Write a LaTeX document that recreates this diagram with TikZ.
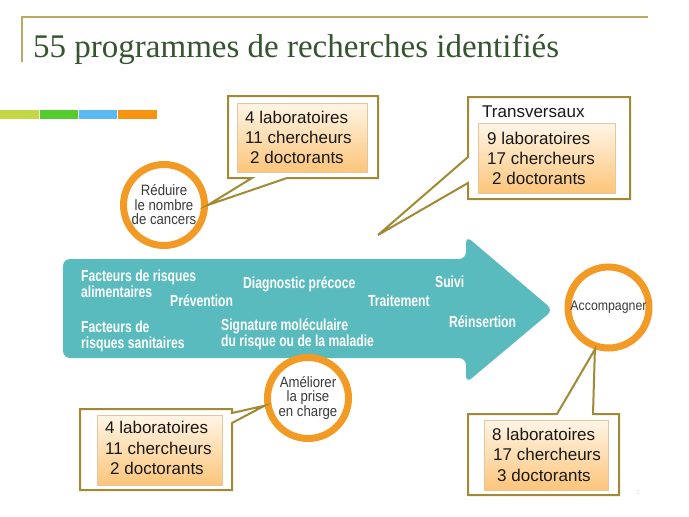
\documentclass[tikz,border=0pt]{standalone}
\usepackage{fontspec}
\setmainfont{Liberation Serif}
\newfontfamily\arialf{Liberation Sans}
\newfontfamily\condf[FakeStretch=0.76]{Liberation Sans}
\newfontfamily\circf[FakeStretch=0.88]{Liberation Sans}
\definecolor{tealc}{HTML}{5ABBBE}
\definecolor{ringc}{HTML}{F39A25}
\definecolor{olivec}{HTML}{A08A35}
\definecolor{titlec}{HTML}{35552F}
\definecolor{rulec}{HTML}{BBA966}
\definecolor{barA}{HTML}{C3D843}
\definecolor{barB}{HTML}{55CC2E}
\definecolor{barC}{HTML}{5BB8F0}
\definecolor{barD}{HTML}{F7940F}
\definecolor{boxtop}{HTML}{FFF5E6}
\definecolor{boxbot}{HTML}{FCC57A}
\definecolor{boxedge}{HTML}{E3C79C}
\definecolor{circtext}{HTML}{3A3A3A}
\begin{document}
\begin{tikzpicture}[x=1pt,y=-1pt,
  ring/.style={circle, draw=ringc, line width=7pt, fill=white, minimum size=81pt, inner sep=0pt,
    align=center, text=circtext, font=\circf\fontsize{15}{14.5}\selectfont},
  outerbox/.style={draw=olivec, line width=2pt, fill=white, line join=miter},
  innerbox/.style={top color=boxtop, bottom color=boxbot, draw=boxedge, line width=0.8pt},
  ctext/.style={anchor=base west, inner sep=0pt, font=\arialf\fontsize{17}{17}\selectfont, text=black!90},
  atext/.style={anchor=base west, inner sep=0pt, font=\condf\bfseries\fontsize{16}{16}\selectfont, text=white}]
\useasboundingbox (0,0) rectangle (689,517);
\fill[white] (0,0) rectangle (689,517);

% title
\draw[rulec, line width=1.5pt] (22,62) -- (22,17) -- (648,17);
\node[anchor=base west, inner sep=0pt, text=titlec, font=\fontsize{33}{33}\selectfont] (title) at (33,57) {55 programmes de recherches identifiés};

% colour bars
\fill[barA] (0,110) rectangle (39,119);
\fill[barB] (40,110) rectangle (78,119);
\fill[barC] (79,110) rectangle (117,119);
\fill[barD] (118,110) rectangle (157,119);

% big arrow
\fill[tealc, rounded corners=7pt] (63,259) -- (466,259) -- (466,236) -- (553,310) -- (466,383) -- (466,358) -- (63,358) -- cycle;

\node[atext] (t1) at (81,281) {Facteurs de risques};
\node[atext] (t2) at (81,297) {alimentaires};
\node[atext] (t3) at (170,306) {Prévention};
\node[atext] (t4) at (243,288) {Diagnostic précoce};
\node[atext] (t5) at (81,332) {Facteurs de};
\node[atext] (t6) at (81,348) {risques sanitaires};
\node[atext] (t7) at (221,330) {Signature moléculaire};
\node[atext] (t8) at (221,346) {du risque ou de la maladie};
\node[atext] (t9) at (435,287) {Suivi};
\node[atext] (t10) at (368,306) {Traitement};
\node[atext] (t11) at (449,327) {Réinsertion};

% circles
\node[ring] (reduire) at (164,205) {Réduire\\le nombre\\de cancers};
\node[ring] (ameliorer) at (308,398) {Améliorer\\la prise\\en charge};
\node[ring, font=\circf\fontsize{14}{14}\selectfont] (accomp) at (608.5,307.5) {Accompagner};

% callout 1 (top middle)
\draw[outerbox] (228,96) -- (378,96) -- (378,178) -- (287,178) -- (reduire.east) -- (252,178) -- (228,178) -- cycle;
\shade[innerbox] (237,103) rectangle (367,172);
\node[ctext] (c1a) at (245,123) {4 laboratoires};
\node[ctext] (c1b) at (245,143) {11 chercheurs};
\node[ctext] (c1c) at (250,163) {2 doctorants};

% callout 2 (Transversaux)
\coordinate (tip2) at (378,235);
\draw[outerbox] (468,97) -- (630,97) -- (630,199) -- (468,199) -- (468,183) -- (tip2) -- (468,157) -- cycle;
\shade[innerbox] (478,123) rectangle (615,193);
\node[ctext] (c2t) at (482,117) {Transversaux};
\node[ctext] (c2a) at (487,144) {9 laboratoires};
\node[ctext] (c2b) at (487,164) {17 chercheurs};
\node[ctext] (c2c) at (492,184) {2 doctorants};

% callout 3 (bottom left)
\draw[outerbox] (80,409) -- (232,409) -- (232,413) -- (ameliorer.190) -- (232,423) -- (232,490) -- (80,490) -- cycle;
\shade[innerbox] (97,415) rectangle (222,485);
\node[ctext] (c3a) at (105,433) {4 laboratoires};
\node[ctext] (c3b) at (105,454) {11 chercheurs};
\node[ctext] (c3c) at (110,474) {2 doctorants};

% callout 4 (bottom right)
\draw[outerbox] (468,414) -- (557,414) -- (accomp.252) -- (593,414) -- (619,414) -- (619,495) -- (468,495) -- cycle;
\shade[innerbox] (484,420) rectangle (608,490);
\node[ctext] (c4a) at (492,440) {8 laboratoires};
\node[ctext] (c4b) at (493,460) {17 chercheurs};
\node[ctext] (c4c) at (497,481) {3 doctorants};

% page mark
\node[inner sep=0pt, text=black!45, font=\arialf\fontsize{7}{7}\selectfont] (pg) at (638,493) {:};
\end{tikzpicture}
\end{document}
